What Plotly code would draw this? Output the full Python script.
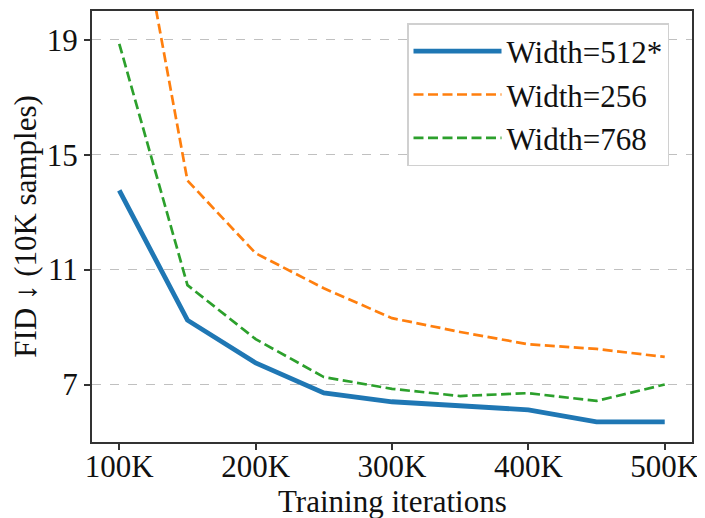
import plotly.graph_objects as go

iters = [100, 150, 200, 250, 300, 350, 400, 450, 500]
fid_w512 = [13.76, 9.24, 7.75, 6.71, 6.40, 6.25, 6.12, 5.70, 5.70]
fid_w256 = [27.0, 14.1, 11.57, 10.35, 9.31, 8.83, 8.40, 8.24, 7.96]
fid_w768 = [18.86, 10.46, 8.58, 7.26, 6.85, 6.60, 6.70, 6.43, 7.00]

x_tickvals = [100, 200, 300, 400, 500]
x_ticktext = ["100K", "200K", "300K", "400K", "500K"]
y_tickvals = [7, 11, 15, 19]
x_title = "Training iterations"
y_title = "FID ↓ (10K samples)"

FONT = "'Liberation Serif', 'Times New Roman', Times, serif"
FS = 31
TXT = "#111"

fig = go.Figure()
fig.add_trace(go.Scatter(x=iters, y=fid_w512, mode="lines", name="Width=512*",
                         line=dict(color="#1f77b4", width=4.8)))
fig.add_trace(go.Scatter(x=iters, y=fid_w256, mode="lines", name="Width=256",
                         line=dict(color="#ff7f0e", width=2.7, dash="10px,4.5px")))
fig.add_trace(go.Scatter(x=iters, y=fid_w768, mode="lines", name="Width=768",
                         line=dict(color="#2ca02c", width=2.7, dash="10px,4.5px")))

# the page body adds an 8px offset; margins compensate for it
fig.update_layout(
    width=705, height=518,
    margin=dict(l=84, r=21, t=3, b=84, autoexpand=False),
    paper_bgcolor="white", plot_bgcolor="white",
    font=dict(family=FONT, size=FS, color=TXT),
    showlegend=True,
    legend=dict(x=0.525, y=0.972, xanchor="left", yanchor="top",
                bgcolor="white", bordercolor="#d0d0d0", borderwidth=1.5,
                font=dict(family=FONT, size=FS, color=TXT),
                itemwidth=88, tracegroupgap=0),
    annotations=[dict(text=x_title, xref="paper", yref="paper", x=0.5, y=0,
                      xanchor="center", yanchor="middle", yshift=-59,
                      showarrow=False, font=dict(family=FONT, size=FS, color=TXT))],
)
fig.update_xaxes(range=[80, 520], tickvals=x_tickvals, ticktext=x_ticktext,
                 showgrid=False, zeroline=False, automargin=False,
                 showline=True, linecolor="#333", linewidth=2, mirror=True,
                 ticks="outside", ticklen=6, tickwidth=1.5, tickcolor="#333",
                 ticklabelstandoff=-10,
                 tickfont=dict(family=FONT, size=FS, color=TXT))
fig.update_yaxes(range=[5, 20], tickvals=y_tickvals,
                 showgrid=True, gridcolor="#c0c0c0", griddash="dash", gridwidth=1,
                 zeroline=False, automargin=False,
                 showline=True, linecolor="#333", linewidth=2, mirror=True,
                 ticks="outside", ticklen=6, tickwidth=1.5, tickcolor="#333",
                 tickfont=dict(family=FONT, size=FS, color=TXT),
                 title=dict(text=y_title, standoff=6,
                            font=dict(family=FONT, size=FS, color=TXT)))

fig.write_html("out.html")
